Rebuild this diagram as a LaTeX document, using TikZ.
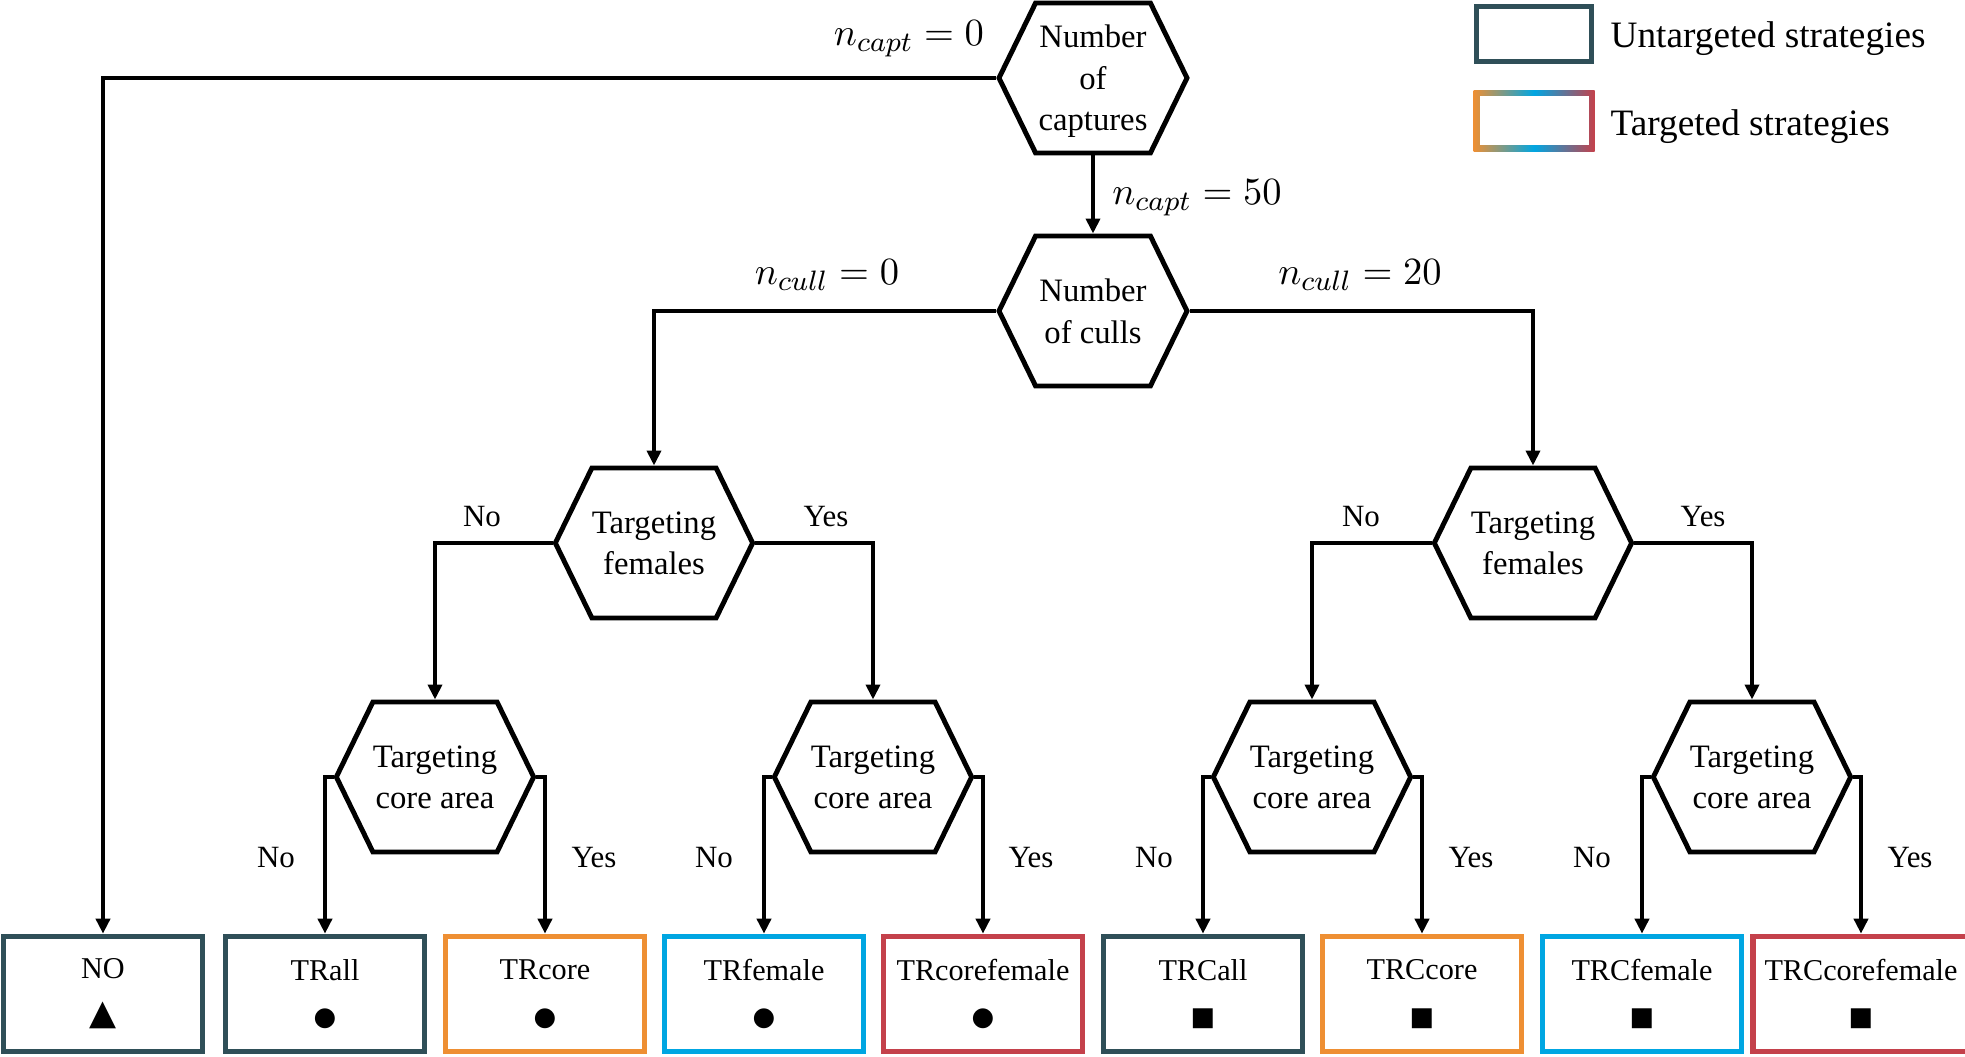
\documentclass[tikz,border=0pt]{standalone}
\usepackage{fontspec}
\setmainfont{Liberation Serif}
\newfontfamily\symfont{DejaVu Sans}
\usetikzlibrary{arrows.meta, shapes.symbols}

\definecolor{untar}{HTML}{2F4F58}
\definecolor{tarorange}{HTML}{EE8F33}
\definecolor{tarblue}{HTML}{00A6E2}
\definecolor{tarred}{HTML}{C4414B}

\newcommand{\marker}[2][7.4]{{\symfont\fontsize{#1}{8}\selectfont #2}}

\begin{document}
\begin{tikzpicture}[
    hexa/.style={signal, signal to=west and east, signal pointer angle=128,
                 draw=black, line width=1.4pt, minimum width=1.88cm,
                 minimum height=1.50cm, inner sep=0pt, align=center,
                 text depth=0pt, font=\fontsize{9.3}{11.8}\selectfont},
    box/.style={rectangle, draw=#1, line width=1.6pt, minimum width=1.99cm,
                minimum height=1.15cm, align=center,
                font=\fontsize{8.6}{13}\selectfont},
    arrow/.style={-{Triangle[length=1.5mm, width=1.4mm]}, line width=1.1pt},
    answer/.style={font=\fontsize{8.8}{10}\selectfont},
    cond/.style={font=\fontsize{11}{13}\selectfont},
    legend/.style={anchor=west, inner sep=0pt, font=\fontsize{10.6}{12}\selectfont}
]

    \useasboundingbox (0, 0) rectangle (19.65, 10.57);

    % Decision nodes
    \node[hexa] (capt) at (10.93, 9.79) {Number\\of\\captures};
    \node[hexa] (cull) at (10.93, 7.46) {Number\\of culls};

    \node[hexa] (femL) at (6.54, 5.14) {Targeting\\females};
    \node[hexa] (femR) at (15.33, 5.14) {Targeting\\females};

    \node[hexa] (coreA) at (4.35, 2.80) {Targeting\\core area};
    \node[hexa] (coreB) at (8.73, 2.80) {Targeting\\core area};
    \node[hexa] (coreC) at (13.12, 2.80) {Targeting\\core area};
    \node[hexa] (coreD) at (17.52, 2.80) {Targeting\\core area};

    % Strategies
    \node[box=untar] (no) at (1.03, 0.63) {NO\\\marker[10]{▲}};
    \node[box=untar] (trall) at (3.25, 0.63) {TRall\\\marker{●}};
    \node[box=tarorange] (trcore) at (5.45, 0.63) {TRcore\\\marker{●}};
    \node[box=tarblue] (trfemale) at (7.64, 0.63) {TRfemale\\\marker{●}};
    \node[box=tarred] (trcorefemale) at (9.83, 0.63) {TRcorefemale\\\marker{●}};
    \node[box=untar] (trcall) at (12.03, 0.63) {TRCall\\\marker{■}};
    \node[box=tarorange] (trccore) at (14.22, 0.63) {TRCcore\\\marker{■}};
    \node[box=tarblue] (trcfemale) at (16.42, 0.63) {TRCfemale\\\marker{■}};
    \node[box=tarred] (trccorefemale) at (18.61, 0.63) {TRCcorefemale\\\marker{■}};

    % Conditions
    \node[cond] (capt0) at (9.09, 10.18) {$n_{capt} = 0$};
    \node[cond] (capt50) at (11.97, 8.59) {$n_{capt} = 50$};
    \node[cond] (cull0) at (8.27, 7.82) {$n_{cull} = 0$};
    \node[cond] (cull20) at (13.60, 7.82) {$n_{cull} = 20$};

    \node[answer] (noL) at (4.82, 5.40) {No};
    \node[answer] (yesL) at (8.26, 5.40) {Yes};
    \node[answer] (noR) at (13.61, 5.40) {No};
    \node[answer] (yesR) at (17.03, 5.40) {Yes};

    \node[answer] (noA) at (2.76, 1.99) {No};
    \node[answer] (yesA) at (5.94, 1.99) {Yes};
    \node[answer] (noB) at (7.14, 1.99) {No};
    \node[answer] (yesB) at (10.31, 1.99) {Yes};
    \node[answer] (noC) at (11.54, 1.99) {No};
    \node[answer] (yesC) at (14.71, 1.99) {Yes};
    \node[answer] (noD) at (15.92, 1.99) {No};
    \node[answer] (yesD) at (19.10, 1.99) {Yes};

    % Arrows
    \draw[arrow] (capt.west) -| (no.north);
    \draw[arrow] (capt.south) -- (cull.north);
    \draw[arrow] (cull.west) -| (femL.north);
    \draw[arrow] (cull.east) -| (femR.north);

    \draw[arrow] (femL.west) -| (coreA.north);
    \draw[arrow] (femL.east) -| (coreB.north);
    \draw[arrow] (femR.west) -| (coreC.north);
    \draw[arrow] (femR.east) -| (coreD.north);

    \draw[arrow] (coreA.west) -| (trall.north);
    \draw[arrow] (coreA.east) -| (trcore.north);
    \draw[arrow] (coreB.west) -| (trfemale.north);
    \draw[arrow] (coreB.east) -| (trcorefemale.north);
    \draw[arrow] (coreC.west) -| (trcall.north);
    \draw[arrow] (coreC.east) -| (trccore.north);
    \draw[arrow] (coreD.west) -| (trcfemale.north);
    \draw[arrow] (coreD.east) -| (trccorefemale.north);

    % Legend
    \node[rectangle, draw=untar, line width=1.6pt, minimum width=1.15cm,
          minimum height=0.55cm] (legU) at (15.34, 10.23) {};
    \node[rectangle, inner sep=0pt, minimum width=1.21cm, minimum height=0.61cm,
          left color=tarorange, right color=tarred, middle color=tarblue] (legT) at (15.34, 9.36) {};
    \node[rectangle, fill=white, inner sep=0pt, minimum width=1.09cm,
          minimum height=0.49cm] (legTin) at (legT) {};
    \node[legend] (legUtext) at (16.10, 10.18) {Untargeted strategies};
    \node[legend] (legTtext) at (16.10, 9.30) {Targeted strategies};

\end{tikzpicture}
\end{document}
